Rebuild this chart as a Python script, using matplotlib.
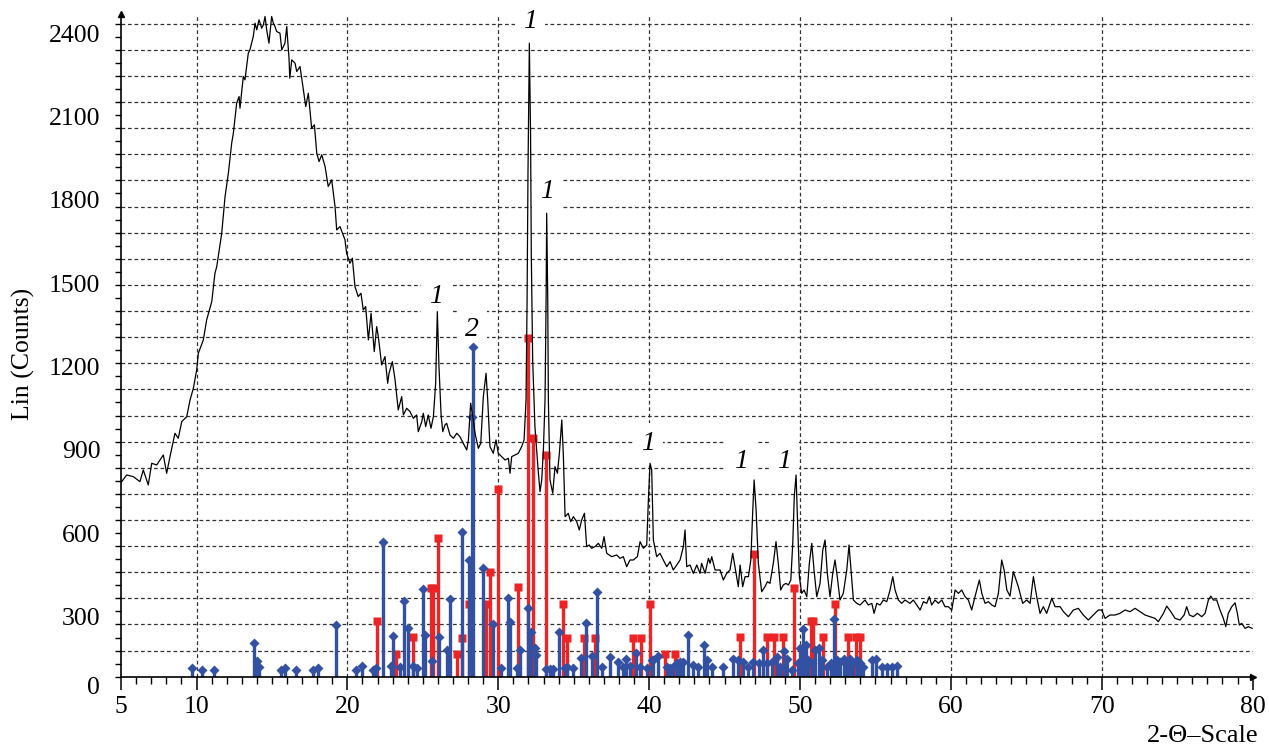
import numpy as np
import matplotlib
matplotlib.use("Agg")
import matplotlib.pyplot as plt
from matplotlib.ticker import FixedLocator
from matplotlib.transforms import blended_transform_factory

plt.rcParams['font.family'] = ['Liberation Serif', 'DejaVu Serif']

# ---------------- data ----------------
two_theta = [
    5.04, 5.37, 5.81, 6.25, 6.47, 6.80, 7.03, 7.36, 7.80, 8.02, 8.24, 8.57, 8.79, 9.02, 9.35, 9.57, 9.79, 10.01,
    10.12, 10.45, 10.67, 11.01, 11.22, 11.34, 11.67, 11.89, 12.11, 12.33, 12.44, 12.66, 12.82, 12.88, 13.10, 13.21,
    13.43, 13.54, 13.76, 13.88, 13.99, 14.14, 14.32, 14.43, 14.54, 14.65, 14.80, 14.98, 15.09, 15.20, 15.31, 15.53,
    15.65, 15.86, 15.98, 16.04, 16.13, 16.18, 16.31, 16.53, 16.64, 16.86, 17.08, 17.24, 17.41, 17.63, 17.81, 17.97,
    18.12, 18.30, 18.52, 18.73, 18.96, 19.18, 19.29, 19.51, 19.84, 19.95, 20.17, 20.33, 20.50, 20.72, 20.90, 21.05,
    21.21, 21.39, 21.57, 21.78, 21.94, 22.05, 22.27, 22.49, 22.67, 22.76, 22.98, 23.16, 23.37, 23.60, 23.71, 23.93,
    24.15, 24.37, 24.59, 24.70, 24.93, 25.03, 25.19, 25.36, 25.54, 25.70, 25.85, 25.96, 26.07, 26.21, 26.32, 26.47,
    26.58, 26.80, 27.02, 27.25, 27.46, 27.68, 27.91, 28.02, 28.17, 28.31, 28.46, 28.68, 28.84, 29.01, 29.19, 29.30,
    29.45, 29.67, 29.85, 30.00, 30.23, 30.45, 30.67, 30.78, 30.89, 31.11, 31.33, 31.55, 31.71, 31.84, 31.91, 31.97,
    32.06, 32.14, 32.19, 32.28, 32.43, 32.66, 32.77, 32.88, 32.99, 33.10, 33.17, 33.21, 33.28, 33.32, 33.43, 33.61,
    33.76, 33.92, 34.05, 34.21, 34.31, 34.43, 34.64, 34.80, 34.98, 35.20, 35.37, 35.53, 35.71, 35.86, 36.03, 36.19,
    36.41, 36.63, 36.86, 37.01, 37.19, 37.52, 37.85, 38.07, 38.29, 38.51, 38.73, 38.95, 39.22, 39.40, 39.62, 39.84,
    39.95, 40.06, 40.17, 40.28, 40.50, 40.72, 40.94, 41.17, 41.39, 41.60, 41.83, 42.05, 42.27, 42.38, 42.49, 42.71,
    42.93, 43.16, 43.37, 43.48, 43.71, 43.93, 44.04, 44.15, 44.37, 44.70, 44.92, 45.14, 45.36, 45.54, 45.69, 45.91,
    46.03, 46.20, 46.36, 46.58, 46.74, 46.87, 46.96, 47.09, 47.24, 47.46, 47.68, 47.84, 48.01, 48.23, 48.41, 48.56,
    48.72, 48.89, 49.07, 49.23, 49.39, 49.52, 49.62, 49.74, 49.82, 49.96, 50.11, 50.27, 50.45, 50.62, 50.78, 50.93,
    51.11, 51.33, 51.51, 51.66, 51.81, 51.99, 52.17, 52.32, 52.47, 52.65, 52.87, 53.10, 53.25, 53.38, 53.54, 53.76,
    53.98, 54.31, 54.53, 54.76, 54.91, 55.09, 55.31, 55.53, 55.75, 55.97, 56.15, 56.30, 56.52, 56.74, 56.96, 57.29,
    57.51, 57.74, 57.96, 58.18, 58.40, 58.57, 58.73, 58.95, 59.17, 59.40, 59.61, 59.83, 60.06, 60.28, 60.50, 60.72,
    60.94, 61.16, 61.38, 61.60, 61.89, 62.05, 62.27, 62.49, 62.71, 62.93, 63.15, 63.37, 63.53, 63.71, 63.92, 64.14,
    64.47, 64.76, 65.03, 65.25, 65.47, 65.69, 65.91, 66.13, 66.35, 66.69, 66.91, 67.24, 67.46, 67.79, 68.12, 68.45,
    68.78, 69.11, 69.44, 69.77, 70.00, 70.22, 70.55, 70.88, 71.21, 71.55, 71.88, 72.21, 72.54, 72.87, 73.20, 73.53,
    73.75, 74.09, 74.31, 74.58, 74.86, 75.19, 75.46, 75.63, 75.81, 76.07, 76.34, 76.63, 76.85, 77.07, 77.23, 77.40,
    77.62, 77.84, 78.06, 78.22, 78.39, 78.62, 78.84, 78.99, 79.12, 79.28, 79.50, 79.72, 79.97,
]
counts = [
    786, 810, 804, 786, 828, 774, 852, 846, 882, 816, 876, 960, 942, 1002, 1020, 1080, 1122, 1188,
    1248, 1296, 1368, 1434, 1536, 1560, 1680, 1812, 1896, 2004, 2040, 2148, 2172, 2130, 2244, 2232,
    2328, 2340, 2388, 2436, 2412, 2448, 2418, 2430, 2460, 2412, 2364, 2460, 2436, 2424, 2406, 2400,
    2340, 2364, 2424, 2376, 2310, 2238, 2304, 2292, 2262, 2280, 2196, 2136, 2184, 2058, 2070, 1968,
    1938, 1962, 1920, 1848, 1872, 1776, 1692, 1704, 1656, 1608, 1572, 1590, 1488, 1452, 1464, 1404,
    1416, 1296, 1392, 1254, 1344, 1308, 1206, 1236, 1140, 1176, 1218, 1152, 1044, 1092, 1026, 1050,
    1038, 1014, 1026, 966, 1002, 1032, 984, 1026, 978, 1020, 1140, 1398, 1200, 1026, 966, 990,
    996, 954, 942, 960, 948, 924, 900, 936, 1068, 1020, 960, 906, 924, 1092, 1176, 1080,
    912, 888, 936, 888, 876, 864, 870, 816, 876, 882, 888, 912, 936, 1080, 1440, 1897,
    2364, 2041, 1602, 1224, 984, 816, 750, 792, 900, 1080, 1440, 1752, 1440, 1080, 792, 744,
    840, 816, 888, 1008, 888, 660, 672, 642, 660, 642, 612, 648, 672, 552, 558, 546,
    552, 564, 546, 588, 528, 516, 522, 510, 516, 480, 504, 504, 516, 570, 546, 558,
    720, 852, 828, 576, 516, 528, 504, 480, 498, 468, 486, 504, 552, 612, 480, 486,
    456, 486, 456, 492, 456, 510, 492, 516, 468, 468, 432, 456, 468, 528, 480, 408,
    486, 408, 444, 444, 504, 684, 792, 684, 492, 390, 408, 426, 420, 492, 570, 492,
    396, 414, 420, 414, 432, 564, 732, 810, 672, 444, 384, 396, 372, 492, 564, 468,
    372, 420, 540, 576, 456, 372, 456, 504, 444, 360, 384, 468, 558, 468, 360, 348,
    342, 360, 342, 348, 312, 348, 342, 360, 354, 396, 444, 396, 360, 348, 360, 348,
    360, 342, 324, 354, 348, 372, 342, 360, 348, 360, 336, 336, 324, 396, 384, 396,
    372, 360, 324, 372, 432, 384, 348, 354, 342, 336, 384, 504, 468, 396, 374, 462,
    408, 348, 360, 348, 444, 372, 312, 336, 312, 366, 336, 336, 318, 300, 324, 330,
    306, 288, 306, 324, 324, 294, 306, 306, 312, 324, 318, 330, 318, 306, 300, 294,
    282, 312, 338, 318, 294, 288, 306, 336, 306, 300, 312, 300, 312, 360, 374, 360,
    360, 324, 294, 264, 312, 336, 350, 312, 270, 276, 258, 264, 258,
]

# phase 1 reference lines (red squares)
red_pos = [21.98, 23.20, 24.37, 25.55, 25.68, 25.99, 27.25, 27.58, 28.08, 29.22, 29.45, 30.00,
           31.33, 31.99, 32.32, 33.15, 34.27, 34.54, 35.68, 36.41, 38.91, 39.44, 40.06, 41.05,
           41.72, 46.03, 46.96, 47.79, 48.30, 48.90, 49.60, 50.73, 50.84, 51.55, 52.32, 53.20,
           53.72, 53.98]
red_int = [286, 166, 226, 404, 404, 582, 166, 224, 344, 344, 462, 758,
           406, 1302, 942, 882, 344, 224, 224, 224, 224, 224, 344, 165,
           165, 226, 525, 226, 226, 226, 404, 286, 286, 226, 344, 226,
           226, 226]

# phase 2 reference lines (blue diamonds)
blue_pos = [9.68, 10.34, 11.18, 13.81, 14.03, 14.12, 15.60, 15.88, 16.61, 17.74, 18.07, 19.23,
            20.57, 20.99, 21.72, 21.88, 22.38, 22.87, 23.04, 23.49, 23.75, 24.04, 24.33, 24.59,
            24.99, 25.14, 25.59, 26.09, 26.62, 26.80, 27.58, 28.08, 28.28, 28.31, 29.01, 29.67,
            30.18, 30.67, 30.78, 31.26, 31.44, 31.99, 32.17, 32.44, 32.50, 33.17, 33.43, 33.65,
            34.05, 34.43, 34.54, 34.94, 35.47, 35.82, 36.24, 36.52, 36.86, 37.41, 37.96, 38.25,
            38.45, 38.73, 39.11, 39.40, 39.84, 40.17, 40.28, 40.61, 41.17, 41.38, 41.60, 41.83,
            42.04, 42.27, 42.60, 42.93, 43.26, 43.64, 43.82, 44.15, 44.92, 45.58, 45.91, 46.24,
            46.58, 46.91, 47.28, 47.53, 47.84, 48.13, 48.46, 48.68, 48.96, 49.16, 49.45, 49.89,
            50.00, 50.22, 50.40, 50.55, 50.78, 51.00, 51.28, 51.44, 51.77, 52.04, 52.26, 52.43,
            52.65, 52.92, 53.10, 53.32, 53.50, 53.76, 53.98, 54.20, 54.76, 55.04, 55.42, 55.79,
            56.08, 56.41]
blue_int = [114, 108, 108, 206, 142, 120, 108, 114, 108, 108, 116, 270,
            108, 124, 108, 114, 570, 122, 232, 120, 356, 258, 124, 116,
            401, 234, 142, 226, 180, 364, 604, 504, 1020, 1272, 474, 274,
            114, 366, 282, 116, 180, 330, 246, 186, 162, 112, 112, 112,
            246, 116, 120, 114, 150, 276, 158, 390, 120, 156, 138, 120,
            146, 122, 168, 118, 114, 144, 144, 158, 120, 114, 120, 132,
            138, 138, 234, 126, 120, 198, 144, 120, 120, 146, 144, 138,
            120, 138, 132, 180, 132, 138, 154, 120, 178, 146, 108, 132,
            186, 256, 198, 144, 132, 180, 186, 144, 120, 132, 290, 144,
            138, 146, 138, 146, 132, 144, 132, 120, 144, 146, 118, 118,
            118, 122]

peak_labels = ['1', '1', '1', '1', '1', '1', '2']
peak_label_x = [25.87, 32.10, 33.23, 39.92, 46.10, 48.95, 28.26]
peak_label_y = [1451, 2441, 1829, 922, 860, 860, 1332]

y_tick_values = [300, 600, 900, 1200, 1500, 1800, 2100, 2400]
x_tick_values = [5, 10, 20, 30, 40, 50, 60, 70, 80]

# ---------------- figure ----------------
W, H = 1269, 747
FS = 18.5
fig = plt.figure(figsize=(W / 100, H / 100), dpi=100)
ax = fig.add_axes([121.1 / W, 1 - 676.7 / H, 1131.5 / W, 662.7 / H])

Y0, Y1 = 84, 2469
ax.set_xlim(5, 80)
ax.set_ylim(Y0, Y1)

grid_kw = dict(color='#333333', lw=0.9, ls=(0, (3, 2.2)), zorder=0.5)
for gy in np.arange(Y0 + 94, Y1, 94):
    ax.axhline(gy, **grid_kw)
for gx in range(10, 80, 10):
    ax.axvline(gx, **grid_kw)

red_c = '#ee2424'
blue_c = '#3351a3'
ax.vlines(red_pos, Y0, red_int, colors=red_c, lw=2.4, zorder=2)
ax.plot(red_pos, red_int, 's', color=red_c, ms=6.2, mec='none', zorder=2.1)
ax.vlines(blue_pos, Y0, blue_int, colors=blue_c, lw=2.4, zorder=2.2)
ax.plot(blue_pos, blue_int, 'D', color=blue_c, ms=5.0, mec='none', zorder=2.3)

ax.plot(two_theta, counts, color='black', lw=0.9, zorder=3)

for t, px, py in zip(peak_labels, peak_label_x, peak_label_y):
    ax.text(px, py, t, fontsize=20, style='italic', ha='center', va='center', zorder=1,
            bbox=dict(boxstyle='square,pad=0.3', fc='white', ec='none'))

# axes styling
for s in ('top', 'right'):
    ax.spines[s].set_visible(False)
for s in ('left', 'bottom'):
    ax.spines[s].set_linewidth(1.2)

ax.xaxis.set_major_locator(FixedLocator(x_tick_values))
ax.xaxis.set_minor_locator(FixedLocator(np.arange(5, 81, 1)))
ax.set_xticklabels([str(v) for v in x_tick_values])
ax.tick_params(axis='x', which='major', length=9, width=1.1, direction='out', labelsize=FS, pad=5)
ax.tick_params(axis='x', which='minor', length=5, width=1.0, direction='out')

ax.yaxis.set_major_locator(FixedLocator(y_tick_values))
ax.set_yticklabels([str(v) for v in y_tick_values])
ax.yaxis.set_minor_locator(FixedLocator(np.arange(Y0, Y1, 47)))
ax.tick_params(axis='y', which='major', length=0, labelsize=FS, pad=15)
ax.tick_params(axis='y', which='minor', length=4.5, width=1.0, direction='out')

trans = blended_transform_factory(ax.transAxes, ax.transData)
ax.text(-0.0186, 43, '0', transform=trans, ha='right', va='center', fontsize=FS, clip_on=False)

# axis arrows
ax.plot([0], [1.0], marker='^', color='black', ms=4, transform=ax.transAxes, clip_on=False, zorder=4)
ax.plot([1.0], [0], marker='>', color='black', ms=4, transform=ax.transAxes, clip_on=False, zorder=4)

fig.text(23 / W, 1 - 354 / H, 'Lin (Counts)', rotation=90, ha='center', va='center', fontsize=FS)
fig.text(1258 / W, 1 - 736 / H, '2-\u0398\u2013Scale', ha='right', va='center', fontsize=FS + 0.5)

fig.savefig('out.png', dpi=100, facecolor='white')
